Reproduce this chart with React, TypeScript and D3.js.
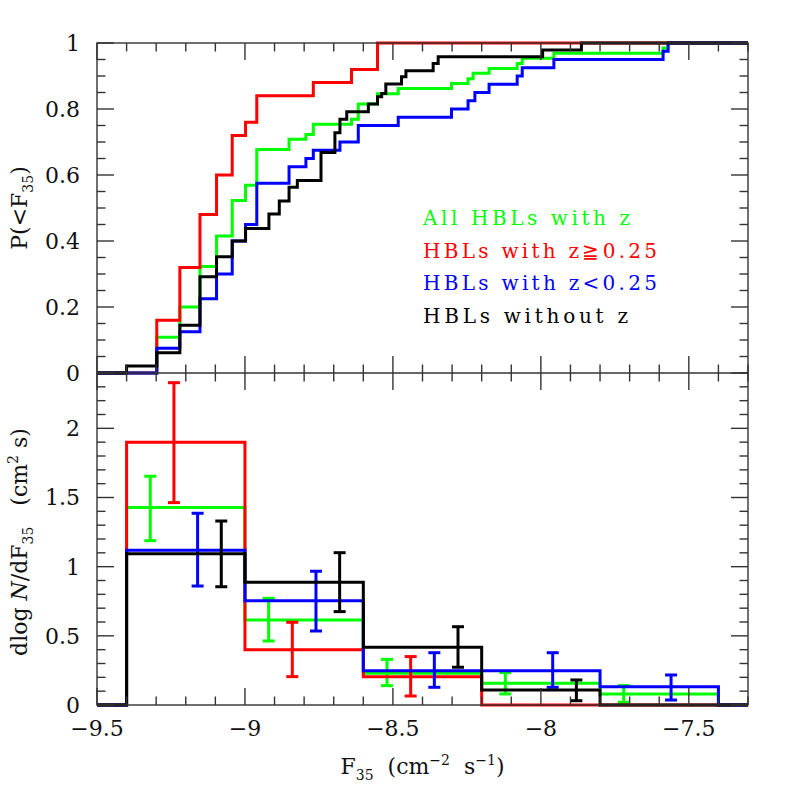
import React from 'react';
import * as d3 from 'd3';

// cumulative distributions: [log F35 at the step, P(<F35) after the step]
const cdfAll = [[-9.298, 0.108], [-9.22, 0.2], [-9.152, 0.323], [-9.096, 0.415], [-9.043, 0.523], [-8.998, 0.569], [-8.96, 0.677], [-8.851, 0.708], [-8.794, 0.723], [-8.769, 0.754], [-8.64, 0.769], [-8.617, 0.815], [-8.552, 0.846], [-8.482, 0.862], [-8.302, 0.877], [-8.246, 0.892], [-8.229, 0.908], [-8.175, 0.923], [-8.08, 0.938], [-8.063, 0.954], [-7.956, 0.969], [-7.587, 0.985], [-7.57, 1]];
const cdfHighZ = [[-9.298, 0.16], [-9.22, 0.32], [-9.152, 0.48], [-9.096, 0.6], [-9.043, 0.72], [-8.998, 0.76], [-8.96, 0.84], [-8.769, 0.88], [-8.64, 0.92], [-8.552, 1]];
const cdfLowZ = [[-9.298, 0.075], [-9.22, 0.125], [-9.152, 0.225], [-9.096, 0.3], [-9.043, 0.4], [-8.998, 0.45], [-8.96, 0.575], [-8.851, 0.625], [-8.794, 0.65], [-8.769, 0.675], [-8.679, 0.7], [-8.617, 0.75], [-8.482, 0.775], [-8.302, 0.8], [-8.246, 0.825], [-8.223, 0.85], [-8.175, 0.875], [-8.08, 0.9], [-8.063, 0.925], [-7.956, 0.95], [-7.587, 0.975], [-7.57, 1]];
const cdfNoZ = [[-9.4, 0.021], [-9.298, 0.0615], [-9.22, 0.145], [-9.152, 0.292], [-9.096, 0.352], [-9.043, 0.4], [-8.998, 0.438], [-8.919, 0.482], [-8.884, 0.521], [-8.851, 0.563], [-8.823, 0.583], [-8.743, 0.668], [-8.696, 0.728], [-8.679, 0.769], [-8.656, 0.792], [-8.583, 0.815], [-8.552, 0.837], [-8.538, 0.847], [-8.524, 0.876], [-8.471, 0.898], [-8.456, 0.916], [-8.364, 0.938], [-8.347, 0.958], [-7.994, 0.979], [-7.863, 1]];

// differential counts per bin, with error bar ends (null = no bar)
const binEdges = [-9.4, -9.0, -8.6, -8.2, -7.8, -7.4];
const histAll = [1.427, 0.615, 0.229, 0.157, 0.08];
const histAllHi = [1.654, 0.771, 0.33, 0.234, 0.14];
const histAllLo = [1.188, 0.463, 0.14, 0.08, 0.02];
const histHighZ = [1.9, 0.4, 0.205, 0, 0];
const histHighZHi = [2.33, 0.598, 0.35, null, null];
const histHighZLo = [1.463, 0.205, 0.065, null, null];
const histLowZ = [1.118, 0.754, 0.248, 0.248, 0.132];
const histLowZHi = [1.386, 0.967, 0.378, 0.378, 0.217];
const histLowZLo = [0.86, 0.535, 0.128, 0.128, 0.036];
const histNoZ = [1.094, 0.887, 0.417, 0.108, 0];
const histNoZHi = [1.33, 1.101, 0.566, 0.181, null];
const histNoZLo = [0.855, 0.675, 0.273, 0.031, null];

const legendLabels = ['All HBLs with z', 'HBLs with z\u22670.25', 'HBLs with z<0.25', 'HBLs without z'];
const xTicks = [-9.5, -9, -8.5, -8, -7.5];
const yTopTicks = [0, 0.2, 0.4, 0.6, 0.8, 1];
const yBotTicks = [0, 0.5, 1, 1.5, 2];

const series = [
  { color: '#00ff00', cdf: cdfAll, hist: histAll, hi: histAllHi, lo: histAllLo, off: 0.08 },
  { color: '#ff0000', cdf: cdfHighZ, hist: histHighZ, hi: histHighZHi, lo: histHighZLo, off: 0.16 },
  { color: '#0000ff', cdf: cdfLowZ, hist: histLowZ, hi: histLowZHi, lo: histLowZLo, off: 0.24 },
  { color: '#000000', cdf: cdfNoZ, hist: histNoZ, hi: histNoZHi, lo: histNoZLo, off: 0.32 },
];

const FONT = 'DejaVu Serif';
const L = 97, R = 748, T = 43, M = 373, B = 705;

export default function App() {
  const x = d3.scaleLinear().domain([-9.5, -7.3]).range([L, R]);
  const yTop = d3.scaleLinear().domain([0, 1]).range([M, T]);
  const yBot = d3.scaleLinear().domain([0, 2.4]).range([B, M]);
  const fmt = d3.format('~g');
  const [x0, x1] = x.domain();

  const cdfLine = d3.line<number[]>().x(d => x(d[0])).y(d => yTop(d[1])).curve(d3.curveStepAfter);
  const histLine = d3.line<number[]>().x(d => x(d[0])).y(d => yBot(d[1])).curve(d3.curveStepAfter);

  const isMajor = (v: number, list: number[]) => list.some(m => Math.abs(m - v) < 1e-6);
  const ticks: JSX.Element[] = [];
  const tickCol = '#333';
  // x ticks on top, middle and bottom
  x.ticks(22).forEach((v, i) => {
    const len = isMajor(v, xTicks) ? 17 : 8.5;
    const px = x(v);
    ticks.push(<line key={'xt' + i} x1={px} x2={px} y1={T} y2={T + len} />);
    ticks.push(<line key={'xm' + i} x1={px} x2={px} y1={M - len} y2={M + len} />);
    ticks.push(<line key={'xb' + i} x1={px} x2={px} y1={B} y2={B - len} />);
  });
  yTop.ticks(20).forEach((v, i) => {
    const len = isMajor(v, yTopTicks) ? 17 : 8.5;
    const py = yTop(v);
    ticks.push(<line key={'yl' + i} x1={L} x2={L + len} y1={py} y2={py} />);
    ticks.push(<line key={'yr' + i} x1={R} x2={R - len} y1={py} y2={py} />);
  });
  yBot.ticks(24).forEach((v, i) => {
    const len = isMajor(v, yBotTicks) ? 17 : 8.5;
    const py = yBot(v);
    ticks.push(<line key={'bl' + i} x1={L} x2={L + len} y1={py} y2={py} />);
    ticks.push(<line key={'br' + i} x1={R} x2={R - len} y1={py} y2={py} />);
  });

  return (
    <svg width={789} height={789} style={{ position: 'absolute', left: 0, top: 0, background: '#fff' }}
      fontFamily={FONT}>
      {/* top panel: cumulative distributions */}
      {series.map((s, i) => (
        <path key={'cdf' + i} d={cdfLine([[x0, 0], ...s.cdf, [x1, s.cdf[s.cdf.length - 1][1]]]) || ''}
          fill="none" stroke={s.color} strokeWidth={3} />
      ))}
      {/* bottom panel: histograms */}
      {series.map((s, i) => {
        const pts = [[x0, 0], ...s.hist.map((v, j) => [binEdges[j], v]), [binEdges[binEdges.length - 1], 0], [x1, 0]];
        return (
          <g key={'h' + i}>
            <path d={histLine(pts) || ''} fill="none" stroke={s.color} strokeWidth={3} />
            {s.hist.map((v, j) => {
              const hi = s.hi[j], lo = s.lo[j];
              if (hi == null || lo == null) return null;
              const px = x(binEdges[j] + s.off);
              return (
                <g key={j} stroke={s.color} strokeWidth={3}>
                  <line x1={px} x2={px} y1={yBot(hi)} y2={yBot(lo)} />
                  <line x1={px - 6} x2={px + 6} y1={yBot(hi)} y2={yBot(hi)} />
                  <line x1={px - 6} x2={px + 6} y1={yBot(lo)} y2={yBot(lo)} />
                </g>
              );
            })}
          </g>
        );
      })}
      {/* frame and ticks */}
      <g stroke={tickCol} strokeWidth={1.4} fill="none">
        <rect x={L} y={T} width={R - L} height={B - T} />
        <line x1={L} x2={R} y1={M} y2={M} />
        {ticks}
      </g>
      {/* tick labels */}
      <g fontSize={22} fill="#111">
        {xTicks.map(v => (
          <text key={'xl' + v} x={x(v)} y={736} textAnchor="middle">{fmt(v)}</text>
        ))}
        {yTopTicks.map(v => (
          <text key={'tl' + v} x={80} y={yTop(v)} dy="0.36em" textAnchor="end">{fmt(v)}</text>
        ))}
        {yBotTicks.map(v => (
          <text key={'bl' + v} x={80} y={yBot(v)} dy="0.36em" textAnchor="end">{fmt(v)}</text>
        ))}
      </g>
      {/* axis titles */}
      <text x={(L + R) / 2} y={774} fontSize={22} textAnchor="middle" fill="#111" style={{ whiteSpace: 'pre' }}>
        F<tspan fontSize={14} dy={6}>35</tspan><tspan dy={-6}>{'  (cm'}</tspan>
        <tspan fontSize={14} dy={-9}>{'\u22122'}</tspan><tspan dy={9}>{'  s'}</tspan>
        <tspan fontSize={14} dy={-9}>{'\u22121'}</tspan><tspan dy={9}>)</tspan>
      </text>
      <text transform={`translate(27,${(T + M) / 2}) rotate(-90)`} fontSize={22} textAnchor="middle" fill="#111">
        P(&lt;F<tspan fontSize={14} dy={6}>35</tspan><tspan dy={-6}>)</tspan>
      </text>
      <text transform={`translate(27,542) rotate(-90)`} fontSize={22} textAnchor="middle" fill="#111" style={{ whiteSpace: 'pre' }}>
        dlog<tspan fontStyle="italic">{' N'}</tspan>/dF<tspan fontSize={14} dy={6}>35</tspan>
        <tspan dy={-6}>{'   (cm'}</tspan><tspan fontSize={14} dy={-9}>2</tspan><tspan dy={9}>{' s)'}</tspan>
      </text>
      {/* legend */}
      {legendLabels.map((t, i) => (
        <text key={t} x={423} y={225 + i * 32.7} fontSize={20} fill={series[i].color}
          textLength={[207, 234, 234, 205][i]} lengthAdjust="spacing">{t}</text>
      ))}
    </svg>
  );
}
